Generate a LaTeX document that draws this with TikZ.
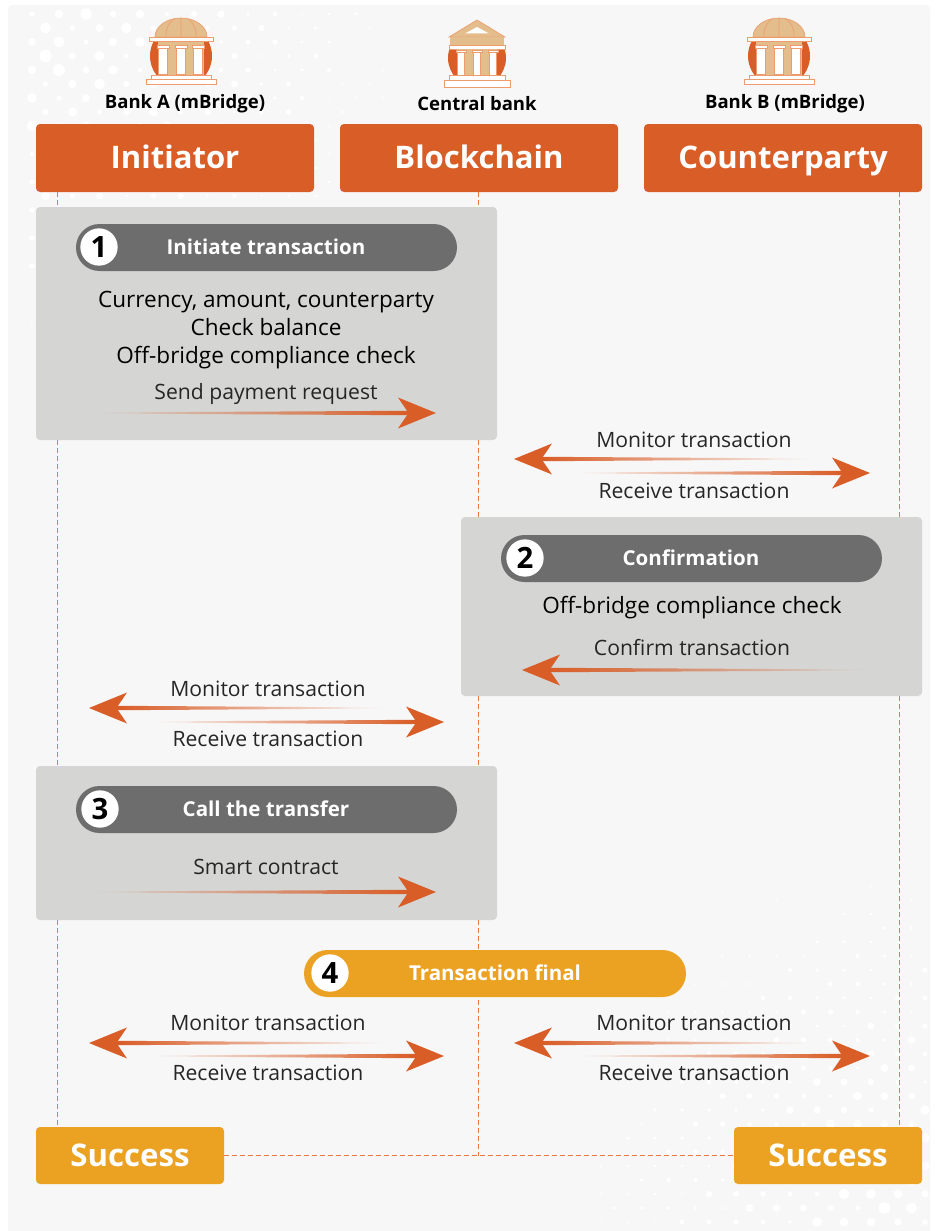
\documentclass[tikz,border=0pt]{standalone}
\usepackage{fontspec}
\setmainfont{Open Sans}
\definecolor{panelbg}{HTML}{F7F7F7}
\definecolor{org}{HTML}{D95D27}
\definecolor{lifeline}{HTML}{E8774A}
\definecolor{greybox}{HTML}{D5D5D3}
\definecolor{pillgrey}{HTML}{6D6D6D}
\definecolor{amber}{HTML}{EBA223}
\definecolor{tan}{HTML}{E3BE8C}
\definecolor{iconline}{HTML}{EE9C6E}
\newcommand{\pxf}[2]{\fontsize{#1}{#2}\selectfont}
\newcommand{\rectnode}[7]{%
  \pgfmathsetmacro{\rcx}{(#2+#4)/2}\pgfmathsetmacro{\rcy}{(#3+#5)/2}%
  \pgfmathsetmacro{\rw}{(#4-#2)*0.75}\pgfmathsetmacro{\rh}{(#5-#3)*0.75}%
  \node[#6,minimum width=\rw pt,minimum height=\rh pt] (#1) at (\rcx,\rcy) {#7};}
% name, tip x, tail x, y, direction (+1 points right), background colour
\newcommand{\fadearrow}[6]{%
  \coordinate (#1tip) at (#2,#4);\coordinate (#1tail) at (#3,#4);
  \pgfmathsetmacro{\dr}{#5}
  \ifnum#5>0
    \shade[left color=#6,middle color=org!90!#6,right color=org]
      (#1tail) ++(0,-0.5) -- ($(#1tip)+(-29,-2.2)$) -- ($(#1tip)+(-29,2.2)$) -- ($(#1tail)+(0,0.5)$) -- cycle;
  \else
    \shade[left color=org,middle color=org!90!#6,right color=#6]
      (#1tail) ++(0,-0.5) -- ($(#1tip)+(29,-2.2)$) -- ($(#1tip)+(29,2.2)$) -- ($(#1tail)+(0,0.5)$) -- cycle;
  \fi
  \fill[org] (#1tip) -- ++(-38*\dr,-15.5) -- ++(9*\dr,13.3) -- ++(0,4.4) -- ++(-9*\dr,13.3) -- cycle;}
% dome bank icon, centre x
\newcommand{\domebank}[1]{%
  \begin{scope}[shift={(#1,0)}]
    \begin{scope}
      \clip (-40,37) rectangle (40,75);
      \fill[org] (0,56) circle[radius=31];
    \end{scope}
    \filldraw[fill=tan,draw=iconline,line width=0.5pt] (-26,37) arc[start angle=180,end angle=360,x radius=26,y radius=19] -- cycle;
    \draw[iconline,line width=0.5pt] (0,18) -- (0,37) (-7,19) .. controls (-14,24) and (-15,30) .. (-15,37)
      (7,19) .. controls (14,24) and (15,30) .. (15,37);
    \fill[tan] (-23,41) rectangle (23,75);
    \filldraw[fill=white,draw=iconline,line width=0.5pt] (-32,37.5) rectangle (32,41.5);
    \foreach \cx in {-18,0,17}{
      \filldraw[fill=white,draw=iconline,line width=0.4pt] (\cx-4.5,48) rectangle (\cx+4.5,74);
      \filldraw[fill=white,draw=iconline,line width=0.4pt] (\cx-6,45) rectangle (\cx+6,48);
    }
    \filldraw[fill=white,draw=iconline,line width=0.5pt] (-30,75) rectangle (30,79);
    \filldraw[fill=white,draw=iconline,line width=0.5pt] (-35,79) rectangle (35,84);
  \end{scope}}
\newcommand{\templebank}[1]{%
  \begin{scope}[shift={(#1,0)}]
    \begin{scope}
      \clip (-40,48) rectangle (40,75);
      \fill[org] (0,58) circle[radius=29];
    \end{scope}
    \filldraw[fill=tan,draw=iconline,line width=0.5pt] (-28,37) -- (0,20) -- (28,37) -- cycle;
    \fill[white] (-12,33.5) -- (0,27) -- (12,33.5) -- cycle;
    \fill[tan] (-27,37) rectangle (27,45);
    \filldraw[fill=white,draw=iconline,line width=0.5pt] (-28,45.5) rectangle (28,49);
    \fill[tan] (-20,49) rectangle (20,75);
    \foreach \cx in {-16,0,16}{
      \filldraw[fill=white,draw=iconline,line width=0.4pt] (\cx-3.5,52) rectangle (\cx+3.5,75);
      \filldraw[fill=white,draw=iconline,line width=0.4pt] (\cx-5,50) rectangle (\cx+5,52);
    }
    \filldraw[fill=white,draw=iconline,line width=0.5pt] (-28,75) rectangle (28,80);
    \filldraw[fill=white,draw=iconline,line width=0.5pt] (-33,80) rectangle (33,87);
  \end{scope}}
\usetikzlibrary{calc}
\tikzset{
  header/.style={fill=org,rounded corners=3pt,text=white,font=\pxf{23.3}{28}\bfseries,inner sep=0pt,text height=20.2pt,text depth=5.1pt},
  finalbox/.style={fill=amber,rounded corners=3pt,text=white,font=\pxf{23.4}{28}\bfseries,inner sep=0pt,text height=21.8pt,text depth=5.1pt},
  greypanel/.style={fill=greybox,rounded corners=3pt,inner sep=0pt},
  pill/.style={fill=pillgrey,rounded corners=17.6pt,inner sep=0pt},
  amberpill/.style={fill=amber,rounded corners=17.6pt,inner sep=0pt},
  pilltext/.style={text=white,font=\pxf{15.4}{18}\bfseries,inner sep=0pt,text height=14.4pt,text depth=3.4pt},
  numdot/.style={circle,fill=white,minimum size=28pt,inner sep=0pt,font=\pxf{22}{24}\bfseries,text=black},
  bodytext/.style={text=black,font=\pxf{16.9}{20},inner sep=0pt,text height=16.2pt,text depth=3.7pt},
  arrowtext/.style={text=black!85,font=\pxf{15.85}{18},inner sep=0pt,text height=14.7pt,text depth=3.5pt},
  banktext/.style={text=black,font=\pxf{13.9}{16}\bfseries,inner sep=0pt,text height=14.8pt,text depth=3pt},
  lifedash/.style={draw=lifeline,line width=0.75pt,dash pattern=on 3.5pt off 2.5pt},
}
\begin{document}
\begin{tikzpicture}[x=0.75pt,y=-0.75pt]
\useasboundingbox (0,0) rectangle (937,1231);
\fill[white] (0,0) rectangle (937,1231);
\fill[panelbg,rounded corners=3pt] (8,5) rectangle (930,1236);
% background dots
\begin{scope}
\clip (8,5) rectangle (930,1231);
\foreach \i in {0,...,16}{\foreach \j in {0,...,30}{
  \pgfmathsetmacro{\dx}{32+27*\i+13.5*mod(\j,2)}
  \pgfmathsetmacro{\dy}{14+14*\j}
  \pgfmathsetmacro{\rr}{max(0,6.5*(1-veclen(\dx-40,\dy-40)/420))*(0.45+0.55*mod(\i*7+\j*13,5)/4)}
  \ifdim\rr pt>0.5pt \fill[white] (\dx,\dy) circle[radius=\rr]; \fi
}}
\foreach \i in {0,...,16}{\foreach \j in {0,...,30}{
  \pgfmathsetmacro{\dx}{925-27*\i-13.5*mod(\j,2)}
  \pgfmathsetmacro{\dy}{1222-14*\j}
  \pgfmathsetmacro{\rr}{max(0,6.5*(1-veclen(\dx-920,\dy-1215)/400))*(0.45+0.55*mod(\i*11+\j*3,5)/4)}
  \ifdim\rr pt>0.5pt \fill[white] (\dx,\dy) circle[radius=\rr]; \fi
}}
\end{scope}
% icons
\domebank{181}
\templebank{477}
\domebank{779}
\node[banktext] (bankA) at (185,101) {Bank A (mBridge)};
\node[banktext] (cbank) at (477,103) {Central bank};
\node[banktext] (bankB) at (785,101) {Bank B (mBridge)};
% headers and end boxes
\rectnode{init}{36}{124}{314}{192}{header}{Initiator}
\rectnode{chain}{340}{124}{618}{192}{header}{Blockchain}
\rectnode{counter}{644}{124}{922}{192}{header}{Counterparty}
\rectnode{succL}{36}{1127}{224}{1184}{finalbox}{Success}
\rectnode{succR}{734}{1127}{922}{1184}{finalbox}{Success}
% lifelines
\coordinate (la) at (57,192);\coordinate (lb) at (478,192);\coordinate (lc) at (899,192);
\draw[lifedash] (la) -- (la |- succL.north);
\draw[lifedash] (lc) -- (lc |- succR.north);
\draw[lifedash] (lb) -- (lb |- succL.east);
\draw[lifedash] (succL.east) -- (succR.west);
% step panels
\rectnode{p1}{36}{207}{497}{440}{greypanel}{}
\rectnode{p2}{461}{517}{922}{696}{greypanel}{}
\rectnode{p3}{36}{766}{497}{920}{greypanel}{}
% step 1
\rectnode{pill1}{76}{224}{457}{271}{pill}{}
\node[numdot] (n1) at (99,247) {1};
\node[pilltext] (t1) at (266,247) {Initiate transaction};
\node[bodytext] (b1a) at (266,299) {Currency, amount, counterparty};
\node[bodytext] (b1b) at (266,327) {Check balance};
\node[bodytext] (b1c) at (266,355) {Off-bridge compliance check};
\node[arrowtext] (send) at (266,392) {Send payment request};
\fadearrow{a1}{436}{97}{413}{1}{greybox}
% monitor 1
\node[arrowtext] (m1) at (694,440) {Monitor transaction};
\fadearrow{a2}{514}{808}{459}{-1}{panelbg}
\fadearrow{a3}{870}{578}{473}{1}{panelbg}
\node[arrowtext] (r1) at (694,491) {Receive transaction};
% step 2
\rectnode{pill2}{501}{535}{882}{582}{pill}{}
\node[numdot] (n2) at (525,558) {2};
\node[pilltext] (t2) at (691,558) {Confirmation};
\node[bodytext] (b2) at (692,605) {Off-bridge compliance check};
\node[arrowtext] (conf) at (692,648) {Confirm transaction};
\fadearrow{a4}{522}{864}{670}{-1}{greybox}
% monitor 2
\node[arrowtext] (m2) at (268,689) {Monitor transaction};
\fadearrow{a5}{89}{382}{708}{-1}{panelbg}
\fadearrow{a6}{444}{153}{722}{1}{panelbg}
\node[arrowtext] (r2) at (268,739) {Receive transaction};
% step 3
\rectnode{pill3}{76}{786}{457}{833}{pill}{}
\node[numdot] (n3) at (100,809) {3};
\node[pilltext] (t3) at (266,809) {Call the transfer};
\node[arrowtext] (smart) at (266,867) {Smart contract};
\fadearrow{a7}{436}{97}{892}{1}{greybox}
% step 4
\rectnode{pill4}{304}{950}{686}{997}{amberpill}{}
\node[numdot] (n4) at (330,973) {4};
\node[pilltext] (t4) at (495,973) {Transaction final};
% monitors 3 and 4
\node[arrowtext] (m3) at (268,1023) {Monitor transaction};
\fadearrow{a8}{89}{382}{1043}{-1}{panelbg}
\fadearrow{a9}{444}{153}{1056}{1}{panelbg}
\node[arrowtext] (r3) at (268,1073) {Receive transaction};
\node[arrowtext] (m4) at (694,1023) {Monitor transaction};
\fadearrow{a10}{514}{808}{1043}{-1}{panelbg}
\fadearrow{a11}{870}{578}{1056}{1}{panelbg}
\node[arrowtext] (r4) at (694,1073) {Receive transaction};
\end{tikzpicture}
\end{document}
